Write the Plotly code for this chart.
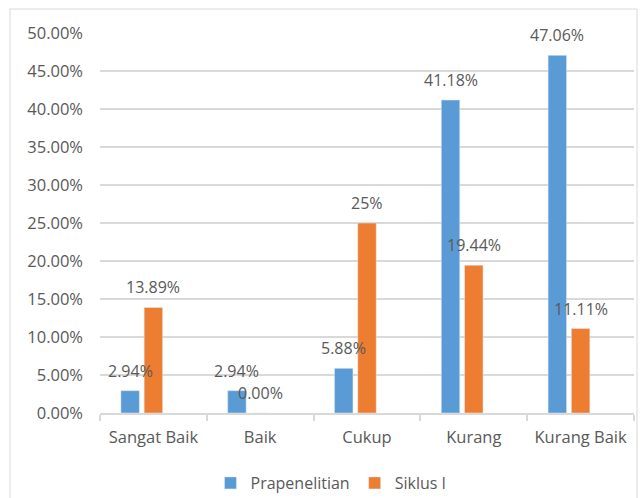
import plotly.graph_objects as go

# Categories and series values (percent)
categories = ["Sangat Baik", "Baik", "Cukup", "Kurang", "Kurang Baik"]
prapenelitian = [2.94, 2.94, 5.88, 41.18, 47.06]
siklus_1 = [13.89, 0.00, 25.00, 19.44, 11.11]
prapenelitian_labels = ["2.94%", "2.94%", "5.88%", "41.18%", "47.06%"]
siklus_1_labels = ["13.89%", "0.00%", "25%", "19.44%", "11.11%"]
y_ticks = [0, 5, 10, 15, 20, 25, 30, 35, 40, 45, 50]
y_tick_text = [f"{v:.2f}%" for v in y_ticks]

BLUE = "#5B9BD5"
ORANGE = "#ED7D31"
GRID = "#D9D9D9"
TEXT = "#595959"
FONT = "Open Sans"

W, H = 644, 498
M_L, M_R, M_T, M_B = 100, 10, 33, 85

BAR_W = 0.173          # bar width in category units
STEP = 0.218           # distance between bar centres in a group
blue_center = -STEP
orange_center = 0.0

fig = go.Figure()
fig.add_trace(go.Bar(
    name="Prapenelitian", x=categories, y=prapenelitian,
    marker_color=BLUE, width=BAR_W, offset=blue_center - BAR_W / 2,
))
fig.add_trace(go.Bar(
    name="Siklus I", x=categories, y=siklus_1,
    marker_color=ORANGE, width=BAR_W, offset=orange_center - BAR_W / 2,
))

# value labels centred above each bar
annotations = []
for series, labels, c in ((prapenelitian, prapenelitian_labels, blue_center),
                          (siklus_1, siklus_1_labels, orange_center)):
    for i, (v, t) in enumerate(zip(series, labels)):
        annotations.append(dict(
            x=i + c, y=v, xref="x", yref="y", text=t, showarrow=False,
            yshift=20, xanchor="center", yanchor="middle",
            font=dict(family=FONT, size=16, color=TEXT),
        ))

# outer chart border
px_to_px = lambda px: (px - M_L) / (W - M_L - M_R)
py_to_py = lambda py: (H - M_B - py) / (H - M_T - M_B)
shapes = [dict(
    type="rect", xref="paper", yref="paper",
    x0=px_to_px(10), x1=px_to_px(637), y0=py_to_py(510), y1=py_to_py(9),
    line=dict(color=GRID, width=1), fillcolor="rgba(0,0,0,0)", layer="below",
)]

fig.update_layout(
    width=W, height=H,
    margin=dict(l=M_L, r=M_R, t=M_T, b=M_B, pad=0, autoexpand=False),
    paper_bgcolor="white", plot_bgcolor="white",
    barmode="group",
    font=dict(family=FONT, size=16, color=TEXT),
    showlegend=True,
    legend=dict(
        orientation="h", xref="container", x=331 / W, xanchor="center",
        yref="container", y=1 - 483 / H, yanchor="middle",
        font=dict(family=FONT, size=16, color=TEXT),
        itemwidth=30, tracegroupgap=0,
    ),
    annotations=annotations,
    shapes=shapes,
)
fig.update_xaxes(
    type="category", showgrid=False, showline=True, linecolor=GRID, linewidth=1.5,
    ticks="outside", tickson="boundaries", ticklen=6, tickcolor=GRID, tickwidth=1.5,
    tickfont=dict(family=FONT, size=16.5, color=TEXT), ticklabelstandoff=8,
    range=[-0.5, len(categories) - 0.5], automargin=False,
)
fig.update_yaxes(
    range=[0, 50], tickvals=y_ticks, ticktext=y_tick_text,
    showgrid=True, gridcolor=GRID, gridwidth=1.5, zeroline=False, showline=False,
    tickfont=dict(family=FONT, size=16.5, color=TEXT), ticklabelstandoff=16,
    automargin=False,
)

fig.write_html("out.html")
